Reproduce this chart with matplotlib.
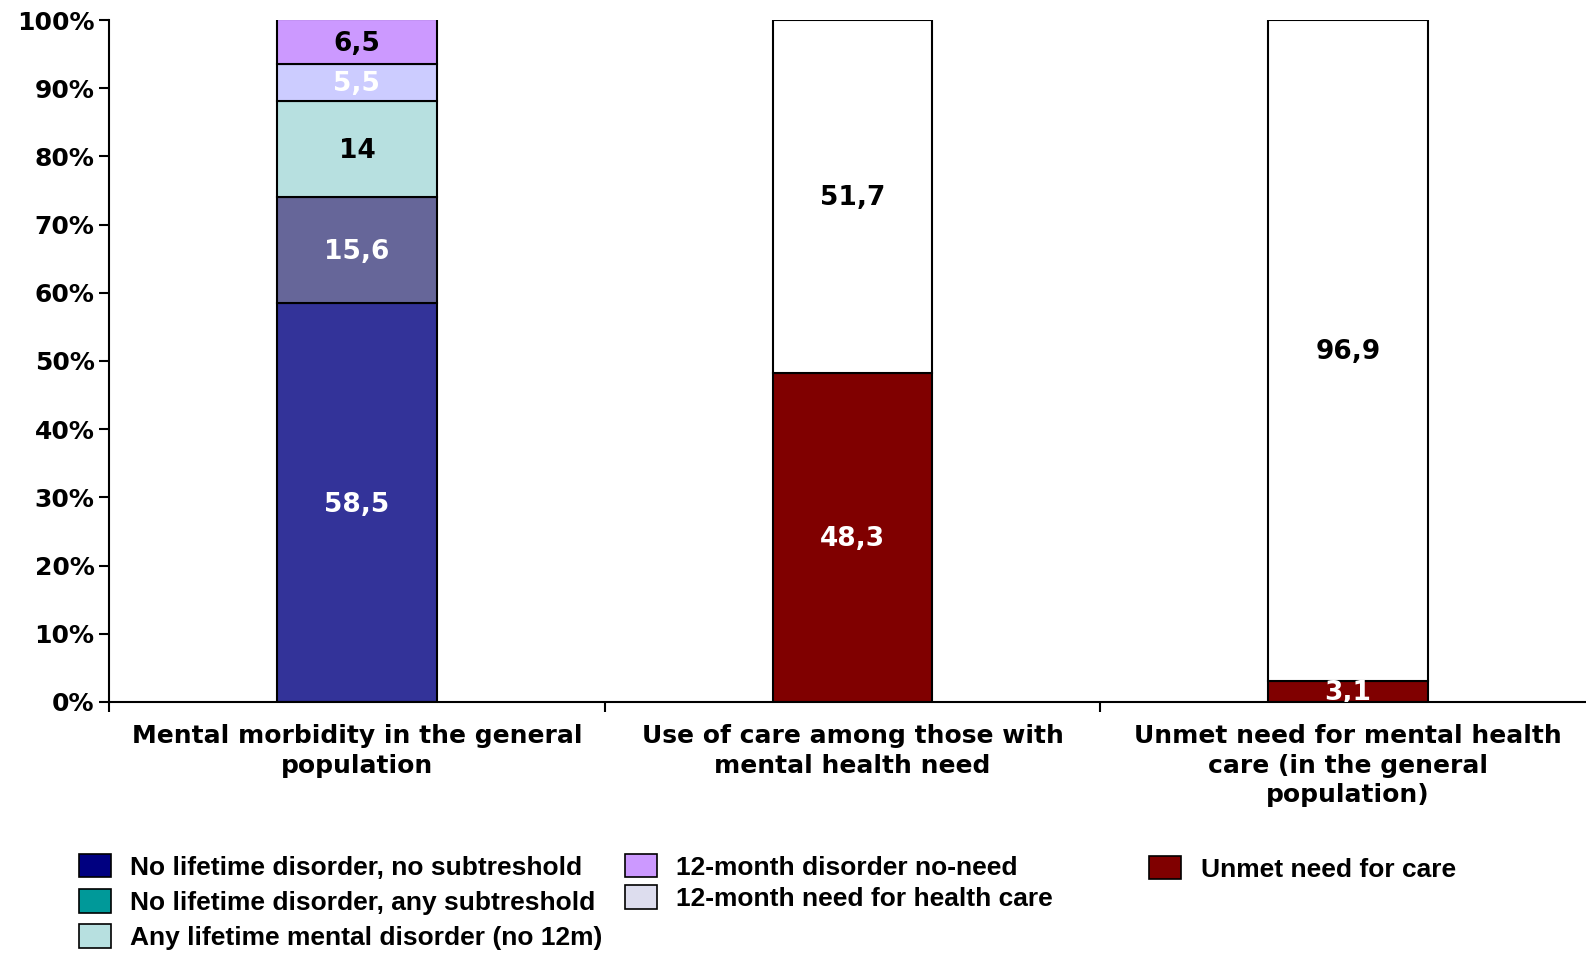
import matplotlib.pyplot as plt
from matplotlib.patches import Patch

# data
categories = ['Mental morbidity in the general\npopulation',
              'Use of care among those with\nmental health need',
              'Unmet need for mental health\ncare (in the general\npopulation)']

# first bar: stacked morbidity segments, bottom to top
morb_values = [58.5, 15.6, 14, 5.5, 6.5]
morb_labels = ['58,5', '15,6', '14', '5,5', '6,5']
morb_colors = ['#333399', '#666699', '#B7E0E0', '#CCCCFF', '#CC99FF']
morb_text = ['white', 'white', 'black', 'white', 'black']

# second and third bars: need / rest
care_values = [48.3, 51.7]
care_labels = ['48,3', '51,7']
unmet_values = [3.1, 96.9]
unmet_labels = ['3,1', '96,9']
pair_colors = ['#800000', 'white']
pair_text = ['white', 'black']

legend_cols = [
    (['No lifetime disorder, no subtreshold', 'No lifetime disorder, any subtreshold',
      'Any lifetime mental disorder (no 12m)'], ['#000080', '#009999', '#B7E0E0']),
    (['12-month disorder no-need', '12-month need for health care'], ['#CC99FF', '#DDDDEE']),
    (['Unmet need for care'], ['#800000']),
]

plt.rcParams['font.family'] = ['DejaVu Sans']
plt.rcParams['font.weight'] = 'bold'

fig = plt.figure(figsize=(15.86, 9.55), dpi=100)
ax = fig.add_axes([0.0688, 0.265, 0.9375, 0.714])

width = 0.322


def stack(x, values, labels, colors, tcolors):
    bottom = 0
    for v, lab, c, tc in zip(values, labels, colors, tcolors):
        ax.bar(x, v, width, bottom=bottom, color=c, edgecolor='black', linewidth=1.5, zorder=2)
        ax.text(x, bottom + v / 2 - 0.3, lab, ha='center', va='center', color=tc,
                fontsize=19, fontweight='bold', zorder=3, clip_on=True)
        bottom += v


stack(0, morb_values, morb_labels, morb_colors, morb_text)
stack(1, care_values, care_labels, pair_colors, pair_text)
stack(2, unmet_values, unmet_labels, pair_colors, pair_text)

ax.set_xlim(-0.5, 2.5)
ax.set_ylim(0, 100)
ax.set_yticks(range(0, 101, 10))
ax.set_yticklabels([f'{v}%' for v in range(0, 101, 10)], fontsize=18, fontweight='bold')
ax.set_xticks([-0.5, 0.5, 1.5, 2.5])
ax.set_xticklabels([])
ax.tick_params(axis='both', direction='out', length=7, width=1.5)
for i, cat in enumerate(categories):
    ax.text(i, -3.3, cat, ha='center', va='top', fontsize=18, fontweight='bold',
            linespacing=1.27, transform=ax.transData, clip_on=False)

for s in ['top', 'right']:
    ax.spines[s].set_visible(False)
for s in ['left', 'bottom']:
    ax.spines[s].set_linewidth(1.5)

# legend in three separate columns
anchors = [(0.0498, 0.106), (0.394, 0.106), (0.7245, 0.104)]
spacings = [0.36, 0.22, 0.22]
for (labels, colors), anchor, sp in zip(legend_cols, anchors, spacings):
    handles = [Patch(facecolor=c, edgecolor='black', linewidth=1.2) for c in colors]
    fig.legend(handles, labels, loc='upper left', bbox_to_anchor=anchor, frameon=False,
               handlelength=1.2, handleheight=1.0, handletextpad=0.75,
               labelspacing=sp, borderpad=0, borderaxespad=0,
               prop={'family': 'Liberation Sans', 'weight': 'bold', 'size': 19})

fig.savefig('out.png', dpi=100)
